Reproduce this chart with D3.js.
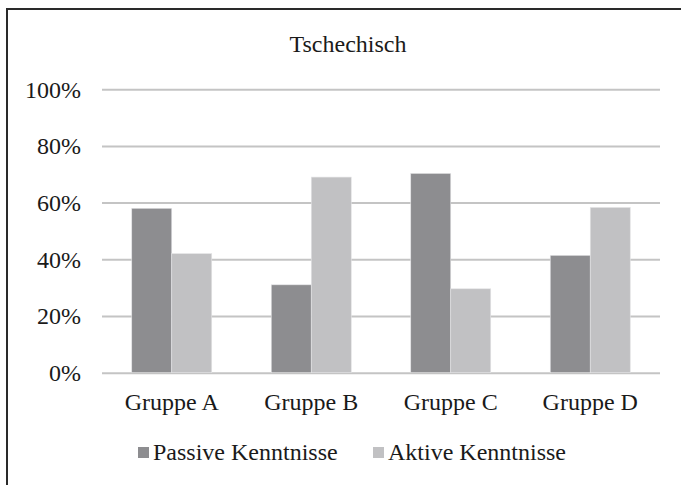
<!DOCTYPE html>
<meta charset="utf-8">
<style>
body { margin: 0; background: #fff; }
svg { font-family: "Liberation Serif", "Times New Roman", serif; }
</style>
<script src="https://d3js.org/d3.v7.min.js"></script>
<svg width="681" height="485"></svg>
<script>
var groups = ["Gruppe A", "Gruppe B", "Gruppe C", "Gruppe D"];
var series = ["Passive Kenntnisse", "Aktive Kenntnisse"];
var passive = [58, 31, 70.3, 41.4];
var aktive = [42, 69, 29.6, 58.3];
var yTicks = [0, 20, 40, 60, 80, 100];

var colors = ["#8d8d90", "#c1c1c3"];
var values = [passive, aktive];
var fs = 24;

var svg = d3.select("svg");

// frame (chart was cropped on the right and bottom)
svg.append("rect")
    .attr("x", 7).attr("y", 9)
    .attr("width", 700).attr("height", 500)
    .attr("fill", "none")
    .attr("stroke", "#2a2a2a")
    .attr("stroke-width", 2);

var x0 = d3.scaleBand()
    .domain(groups)
    .range([102, 660])
    .paddingInner(0.4265)
    .paddingOuter(0.2133);

var x1 = d3.scaleBand()
    .domain(series)
    .range([0, x0.bandwidth()]);

var y = d3.scaleLinear()
    .domain([0, 100])
    .range([372.7, 89.2]);

svg.append("text")
    .attr("x", 348).attr("y", 52)
    .attr("text-anchor", "middle")
    .attr("font-size", fs)
    .attr("fill", "#1a1a1a")
    .text("Tschechisch");

// gridlines + tick labels
var yAxis = svg.append("g")
    .attr("transform", "translate(102,0)")
    .call(d3.axisLeft(y).tickValues(yTicks).tickSize(-558).tickPadding(21)
      .tickFormat(function(d) { return d + "%"; }));
yAxis.select(".domain").remove();
yAxis.selectAll(".tick line")
    .attr("stroke", "#c4c4c4")
    .attr("stroke-width", 2);
yAxis.selectAll(".tick text")
    .attr("font-size", fs)
    .attr("font-family", "Liberation Serif, serif")
    .attr("fill", "#1a1a1a")
    .attr("dy", "0.33em");

var g = svg.selectAll("g.grp")
    .data(groups)
  .enter().append("g")
    .attr("class", "grp")
    .attr("transform", function(d) { return "translate(" + x0(d) + ",0)"; });

g.selectAll("rect")
    .data(function(d, i) { return series.map(function(s, j) { return {s: s, v: values[j][i], j: j}; }); })
  .enter().append("rect")
    .attr("x", function(d) { return x1(d.s); })
    .attr("y", function(d) { return y(d.v); })
    .attr("width", x1.bandwidth())
    .attr("height", function(d) { return y(0) - y(d.v); })
    .attr("fill", function(d) { return colors[d.j]; })
    .attr("stroke", "#e4e4e6")
    .attr("stroke-width", 0.6);

var xAxis = svg.append("g")
    .attr("transform", "translate(0,372.7)")
    .call(d3.axisBottom(x0).tickSize(0).tickPadding(37));
xAxis.select(".domain").remove();
xAxis.selectAll(".tick text")
    .attr("font-size", fs)
    .attr("font-family", "Liberation Serif, serif")
    .attr("fill", "#1a1a1a")
    .attr("dy", "0");

// legend
var legendX = [138, 373];
var leg = svg.selectAll("g.leg")
    .data(series)
  .enter().append("g")
    .attr("class", "leg")
    .attr("transform", function(d, i) { return "translate(" + legendX[i] + ",447)"; });
leg.append("rect")
    .attr("width", 11).attr("height", 11)
    .attr("fill", function(d, i) { return colors[i]; });
leg.append("text")
    .attr("x", 15).attr("y", 12.5)
    .attr("font-size", fs)
    .attr("fill", "#1a1a1a")
    .text(function(d) { return d; });
</script>
